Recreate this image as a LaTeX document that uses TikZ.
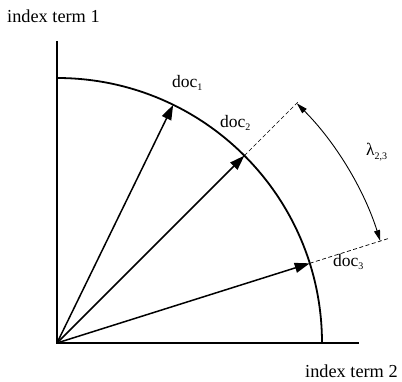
\documentclass[tikz,border=0pt]{standalone}
\usepackage{fontspec}
\setmainfont{Liberation Serif}
\usetikzlibrary{arrows.meta,calc}
\newcommand{\sbs}[1]{\raisebox{-3.5pt}{\fontsize{10}{12}\selectfont #1}}
\tikzset{
  axisline/.style={line width=2.6pt},
  circline/.style={line width=1.8pt},
  vecline/.style={line width=1.5pt,-{Triangle[length=15pt,width=10pt]}},
  dashline/.style={line width=0.7pt,dash pattern=on 4pt off 2.5pt},
  lamline/.style={line width=0.9pt,{Triangle[length=11pt,width=6pt]}-{Triangle[length=11pt,width=6pt]}},
  lbl/.style={font=\fontsize{17.5}{20}\selectfont,inner sep=0pt},
  axlbl/.style={font=\fontsize{18.3}{21}\selectfont,inner sep=0pt}
}
\begin{document}
\begin{tikzpicture}[x=1pt,y=1pt]
\useasboundingbox (0,0) rectangle (402,381);
\coordinate (O) at (57,38);
\coordinate (ytop) at (57,340);
\coordinate (xend) at (359,38);
\coordinate (ctop) at ($(O)+(90:265)$);
\coordinate (d1) at ($(O)+(64:265)$);
\coordinate (d2) at ($(O)+(45:265)$);
\coordinate (d3) at ($(O)+(17.5:265)$);
\coordinate (e2) at ($(O)+(45:341)$);
\coordinate (e3) at ($(O)+(17.5:348)$);
\coordinate (l2) at ($(O)+(45:339)$);
\draw[axisline] (ytop) -- (O) -- (xend);
\draw[circline] (ctop) arc[start angle=90,end angle=0,radius=265];
\draw[vecline] (O) -- (d1);
\draw[vecline] (O) -- (d2);
\draw[vecline] (O) -- (d3);
\draw[dashline] (d2) -- (e2);
\draw[dashline] (d3) -- (e3);
\draw[lamline] (l2) arc[start angle=45,end angle=17.5,radius=339];
\node[axlbl,anchor=base west] (t1) at (7,358) {index term 1};
\node[axlbl,anchor=base west] (t2) at (305,4) {index term 2};
\node[lbl,anchor=west] (n1) at (172,298) {doc\sbs{1}};
\node[lbl,anchor=west] (n2) at (220,258) {doc\sbs{2}};
\node[lbl,anchor=west] (n3) at (333,119) {doc\sbs{3}};
\node[lbl,anchor=west] (lam) at (366,229) {λ\sbs{2,3}};
\end{tikzpicture}
\end{document}
